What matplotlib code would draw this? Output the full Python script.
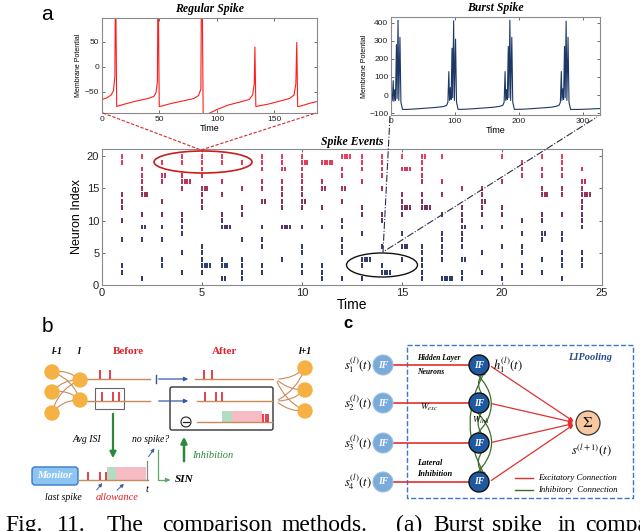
import numpy as np
import matplotlib.pyplot as plt
from matplotlib.patches import Circle, Ellipse, Rectangle, FancyBboxPatch, FancyArrowPatch
from matplotlib.colors import LinearSegmentedColormap

plt.rcParams['font.family'] = ['Liberation Sans', 'DejaVu Sans']
plt.rcParams['mathtext.fontset'] = 'stix'

W, H = 640, 531
NARROW = ['Liberation Sans Narrow', 'Liberation Sans', 'DejaVu Sans']
SERIF = ['Liberation Serif', 'DejaVu Serif']

# ---------------- data ----------------
# regular spiking neuron: (time, membrane potential) key points
reg_t = [0, 4, 8, 10, 11.2, 11.6, 12.0, 12.8, 14, 20, 30, 40, 45, 47, 48.2, 48.6, 49.0, 49.8,
         52, 60, 70, 80, 84, 86, 86.4, 86.8, 87.2, 88, 92, 100, 110, 120, 128, 131, 132.4, 133.0,
         133.8, 136, 145, 155, 163, 167, 168.6, 169.4, 170.2, 173, 180, 187]
reg_v = [-66, -63, -57, -48, -20, 130, 130, -80, -79, -75, -69, -64, -60, -52, -30, 130, 130, -80,
         -79, -74, -69, -64, -58, -45, 130, 130, 130, -96, -95, -86, -77, -71, -66, -57, -35, 39,
         -80, -79, -75, -69, -64, -57, -35, 48, -80, -79, -74, -70]

# bursting neuron: (time, membrane potential) key points
burst_t = [0, 2, 3.5, 4.5, 6, 7, 8.5, 9.5, 11, 12.2, 14, 15.5, 18, 25, 40, 55, 70, 82, 87,
           89, 90.5, 91.5, 93, 94, 95.5, 96.5, 98, 99.2, 101, 102.5, 105, 115, 130, 145, 160, 170, 175,
           177, 178.5, 179.5, 181, 182, 183.5, 184.5, 186, 187.2, 189, 190.5, 193, 205, 220, 235, 250, 258, 263,
           265, 266.5, 267.5, 269, 270, 271.5, 272.5, 274, 275.2, 277, 278.5, 281, 295, 310, 327]
burst_v = [-40, -30, 80, -35, 30, -30, 280, -20, 415, -30, 320, -40, -80, -80, -77, -73, -69, -64, -58,
           -40, 130, -30, 40, -25, 260, -15, 412, -30, 310, -40, -80, -79, -76, -72, -68, -63, -57,
           -40, 130, -30, 30, -25, 270, -15, 415, -30, 320, -40, -80, -79, -76, -72, -68, -63, -57,
           -40, 130, -30, 35, -25, 270, -15, 410, -30, 320, -40, -80, -80, -78, -75]

# raster: time step -> neurons firing; (neuron, n) = burst of n spikes
raster = {
    1: [20, 19, 14, 13, 12, 10, 7, 3, 2],
    2: [20, 18, 17, 16, 15, (14, 3), 11, (9, 2), 7, 1],
    3: [19, (17, 2), 16, 13, 11, 9, 7, 4, 3],
    4: [20, 19, 17, (16, 4), 15, 11, 10, 9, 8, 5, 2],
    5: [20, 19, 18, 17, (15, 3), 14, 13, 12, 6, 5, 4, (3, 4), 2],
    6: [20, 19, 16, 14, 11, 10, (9, 4), 4, (3, 3), (1, 2)],
    7: [19, 15, 12, 11, 7, 4, 3, 2, 1],
    8: [20, 19, 18, 16, 15, (13, 2), 9, 7, 6, 3, 2],
    9: [20, 19, (18, 2), 16, 15, 14, 13, 12, (9, 4), 4],
    10: [20, (19, 3), 18, 17, 16, 15, 14, (13, 2), 12, 9, 6, 5, 3, 2],
    11: [(19, 5), 16, (15, 2), 12, 9, 3, 2, 1],
    12: [(20, 4), 18, 17, (15, 2), 13, 10, 9, 7, 6, 5, 1],
    13: [20, 19, 18, 16, 12, 11, 8, (4, 4), 3, 1],
    14: [20, 19, 18, 17, 15, 11, 10, 6, 3, (2, 4)],
    15: [20, (18, 4), 14, 13, (12, 4), 11, 8, (6, 3), 4],
    16: [(20, 2), 19, 18, 17, 16, 14, 13, (12, 4), 6, 5, 4, 3, 2, 1],
    17: [20, 16, 14, 11, 8, 7, 6, 5, 4, (1, 5)],
    18: [15, 12, 11, 10, (9, 2), 8, 7, 6, (4, 2), 2, 1],
    19: [15, 14, (13, 2), 12, 11, 9, 5, 2],
    20: [20, 16, 12, 11, 9, 6, 3, 1],
    21: [19, 18, 17, 10, 8, 6, 5, 3, 2],
    22: [20, 18, 17, 15, (14, 3), 11, 10, (8, 2), 7, 4, 2],
    23: [20, 19, 18, 17, 15, 14, 11, 8, 7, 5, 4, 3, 1],
    24: [18, (16, 2), 15, (14, 4), 13, 12, 11, 10, 9, 5, 4, 3],
}

input_labels = [r'$s_{1}^{(l)}(t)$', r'$s_{2}^{(l)}(t)$', r'$s_{3}^{(l)}(t)$', r'$s_{4}^{(l)}(t)$']
caption_words = ['Fig.', '11.', 'The', 'comparison', 'methods.', '(a)', 'Burst', 'spike', 'in', 'comparison']
caption_x = [5, 57, 107, 162, 282, 396, 433, 492, 558, 585]

# ---------------- figure ----------------
fig = plt.figure(figsize=(W / 100, H / 100), dpi=100)


def px_axes(x0, y0, x1, y1, **kw):
    return fig.add_axes([x0 / W, 1 - y1 / H, (x1 - x0) / W, (y1 - y0) / H], **kw)


def matlab_style(ax, size):
    for s in ax.spines.values():
        s.set_color('#8a8a8a')
        s.set_linewidth(0.8)
    ax.tick_params(direction='in', length=2.5, width=0.6, color='#555555',
                   labelcolor='#222222', labelsize=size, top=True, right=True, pad=2)


title_kw = dict(fontfamily=SERIF, fontweight='bold', style='italic', fontsize=8.5)

# Regular spike
ax1 = px_axes(102, 18, 317, 113)
ax1.plot(reg_t, reg_v, color='#ff1c1c', lw=0.8)
ax1.set_xlim(0, 187)
ax1.set_ylim(-93, 97)
ax1.set_xticks([0, 50, 100, 150])
ax1.set_yticks([-50, 0, 50])
matlab_style(ax1, 6)
ax1.set_xlabel('Time', fontsize=6.5, labelpad=1)
ax1.set_ylabel('Membrane Potential', fontsize=5, family=NARROW, labelpad=2)
ax1.set_title('Regular Spike', pad=4, **title_kw)

# Burst spike
ax2 = px_axes(391, 17, 600, 115)
ax2.plot(burst_t, burst_v, color='#1d3766', lw=0.8)
ax2.set_xlim(0, 327)
ax2.set_ylim(-111, 433)
ax2.set_xticks([0, 100, 200, 300])
ax2.set_yticks([-100, 0, 100, 200, 300, 400])
matlab_style(ax2, 6)
ax2.set_xlabel('Time', fontsize=6.5, labelpad=1)
ax2.set_ylabel('Membrane Potential', fontsize=5, family=NARROW, labelpad=1)
ax2.set_title('Burst Spike', pad=4, **title_kw)

# Spike raster
cmap = LinearSegmentedColormap.from_list(
    'spk', ['#17275a', '#1e2a5e', '#3a2456', '#6b1c4c', '#b81f48', '#ec2a50'])
ax3 = px_axes(102, 149, 602, 285)
xs, y0s, y1s, cols = [], [], [], []
for t, rows in raster.items():
    for item in rows:
        r, n = item if isinstance(item, tuple) else (item, 1)
        for k in range(n):
            xs.append(t + k * 0.13)
            y0s.append(r - 0.38)
            y1s.append(r + 0.38)
            cols.append(cmap((r - 1) / 19))
ax3.vlines(xs, y0s, y1s, colors=cols, lw=1.3)
ax3.set_xlim(0, 25)
ax3.set_ylim(0, 21.1)
ax3.set_xticks([0, 5, 10, 15, 20, 25])
ax3.set_yticks([0, 5, 10, 15, 20])
matlab_style(ax3, 8)
ax3.set_xlabel('Time', fontsize=10, labelpad=0, family=NARROW)
ax3.set_ylabel('Neuron Index', fontsize=9, labelpad=3, family=NARROW)
ax3.set_title('Spike Events', pad=3, **title_kw)

# ---------------- overlay in pixel coordinates ----------------
ov = fig.add_axes([0, 0, 1, 1], zorder=10)
ov.set_xlim(0, W)
ov.set_ylim(H, 0)
ov.axis('off')
ov.patch.set_alpha(0)

ov.text(47, 15, 'a', fontsize=15, ha='center', va='center')
ov.text(47, 327, 'b', fontsize=15, ha='center', va='center')
ov.text(348, 324, 'c', fontsize=12, fontweight='bold', ha='center', va='center')

# zoom connectors
ov.plot([103, 201, 316], [113, 150, 113], color='#d42a2a', lw=0.8, ls=(0, (3, 1.5)))
ov.add_patch(Ellipse((203, 162), 98, 22, fill=False, edgecolor='#c81e1e', lw=1.2))
ov.plot([390, 383, 597], [116, 252, 117], color='#2a3048', lw=0.8, ls='-.')
ov.add_patch(Ellipse((382, 265), 71, 24, fill=False, edgecolor='#111111', lw=1.0))

# ---------------- panel b ----------------
orange, brown, red = '#f5b143', '#c98a5a', '#e0202a'
blue_a, green = '#3a5aa8', '#2a8a3a'
ital = dict(fontfamily=SERIF, style='italic')

left_col = [372, 392, 413]
mid_col = [380, 400]
right_col = [368, 390, 411]
for ya in left_col:
    for yb in mid_col:
        ov.add_patch(FancyArrowPatch((52, ya), (80, yb), arrowstyle='-', color=brown, lw=0.8,
                                     connectionstyle='arc3,rad=-0.25'))
for ya in mid_col:
    for yb in right_col:
        ov.add_patch(FancyArrowPatch((276, ya + (-1 if ya < 390 else 1)), (305, yb), arrowstyle='-',
                                     color=brown, lw=0.8, connectionstyle='arc3,rad=0.2'))
for y in left_col:
    ov.add_patch(Circle((52, y), 7, color=orange, zorder=3))
for y in mid_col:
    ov.add_patch(Circle((80, y), 7, color=orange, zorder=3))
for y in right_col:
    ov.add_patch(Circle((305, y), 7, color=orange, zorder=3))

ov.text(57, 352, 'l-1', fontsize=7, fontweight='bold', ha='center', va='center', **ital)
ov.text(79, 352, 'l', fontsize=7, fontweight='bold', ha='center', va='center', **ital)
ov.text(305, 352, 'l+1', fontsize=7, fontweight='bold', ha='center', va='center', **ital)
ov.text(128, 352, 'Before', fontsize=8, fontweight='bold', color=red, ha='center', va='center',
        fontfamily=SERIF)
ov.text(225, 352, 'After', fontsize=8, fontweight='bold', color=red, ha='center', va='center',
        fontfamily=SERIF)


def train(x0, x1, y, spikes, h=9):
    ov.plot([x0, x1], [y, y], color=brown, lw=1.0)
    ov.vlines(spikes, y - h, y, color=red, lw=1.2)


train(87, 150, 379, [100, 110])
train(87, 150, 401, [102, 113, 119])
ov.add_patch(Rectangle((95, 388), 29, 21, fill=False, edgecolor='#666666', lw=0.8))
for y in [379, 401]:
    ov.plot([156, 156], [375, 383], color=blue_a, lw=0.9)
    ov.annotate('', xy=(191, y), xytext=(156, y),
                arrowprops=dict(arrowstyle='-|>', color=blue_a, lw=0.9, mutation_scale=6))
train(195, 273, 379, [204, 212])
ov.add_patch(FancyBboxPatch((170, 387), 103, 43, boxstyle='round,pad=0,rounding_size=2',
                            fill=False, edgecolor='#333333', lw=1.0))
train(197, 272, 401, [205, 216, 222])
ov.add_patch(Rectangle((222, 411), 10, 11, color='#b4dcc0', lw=0))
ov.add_patch(Rectangle((232, 411), 30, 11, color='#f6bcc4', lw=0))
train(197, 272, 422, [263, 265.5, 268], h=8)
ov.add_patch(Circle((186, 422), 5, fill=False, edgecolor='#222222', lw=0.8))
ov.plot([183, 189], [422, 422], color='#222222', lw=0.9)

ov.annotate('', xy=(113, 461), xytext=(113, 411),
            arrowprops=dict(arrowstyle='-|>', color=green, lw=1.6, mutation_scale=9))
ov.text(87, 440, 'Avg ISI', fontsize=7, ha='center', va='center', **ital)
ov.text(151, 440, 'no spike?', fontsize=7, ha='center', va='center', **ital)
ov.annotate('', xy=(156, 446), xytext=(147, 459),
            arrowprops=dict(arrowstyle='-|>', color=blue_a, lw=0.7, mutation_scale=5))
ov.plot([158, 158, 166], [450, 480, 480], color='#5aa86a', lw=0.9)
ov.annotate('', xy=(173, 480), xytext=(165, 480),
            arrowprops=dict(arrowstyle='-|>', color='#5aa86a', lw=0.9, mutation_scale=6))
ov.text(175, 480, 'SIN', fontsize=8, fontweight='bold', ha='left', va='center', **ital)
ov.annotate('', xy=(184, 434), xytext=(184, 464),
            arrowprops=dict(arrowstyle='-|>', color=green, lw=1.8, mutation_scale=9))
ov.text(192, 456, 'Inhibition', fontsize=7.5, color=green, ha='left', va='center', **ital)

ov.add_patch(FancyBboxPatch((32, 467), 46, 18, boxstyle='round,pad=0,rounding_size=3',
                            facecolor='#8cc4f2', edgecolor='#3a78c8', lw=1.0))
ov.text(55, 476, 'Monitor', fontsize=7.5, fontweight='bold', color='white', ha='center',
        va='center', **ital)
ov.add_patch(Rectangle((107, 467), 9, 13, color='#b4dcc0', lw=0))
ov.add_patch(Rectangle((116, 467), 30, 13, color='#f6bcc4', lw=0))
train(79, 148, 480, [88, 100, 106], h=8)
ov.plot([147, 147], [461, 480], color='#888888', lw=0.9)
ov.text(147, 490, 't', fontsize=7.5, ha='center', va='center', **ital)
ov.text(63, 498, 'last spike', fontsize=7, ha='center', va='center', **ital)
ov.text(117, 498, 'allowance', fontsize=7.5, color=red, ha='center', va='center', **ital)
ov.annotate('', xy=(104, 481), xytext=(95, 492),
            arrowprops=dict(arrowstyle='-|>', color=blue_a, lw=0.7, mutation_scale=5))
ov.annotate('', xy=(126, 482), xytext=(115, 492),
            arrowprops=dict(arrowstyle='-|>', color=blue_a, lw=0.7, mutation_scale=5))

# ---------------- panel c ----------------
ys = [365, 403, 443, 482]
in_x, hid_x, rad = 383, 479, 10
exc, inh = '#e03030', '#3d6e2e'
ov.add_patch(Rectangle((407, 345), 226, 153, fill=False, edgecolor='#3a78c8', lw=1.0, ls='--'))
ov.text(590, 358, 'LIPooling', fontsize=7.5, fontweight='bold', color='#2a4a8a', ha='center',
        va='center', **ital)

for i, y in enumerate(ys):
    ov.plot([in_x + rad, hid_x - rad], [y, y], color=exc, lw=1.2)
    ov.add_patch(FancyArrowPatch((hid_x + rad, y), (576, 423), arrowstyle='-|>', color=exc,
                                 lw=0.9, mutation_scale=6))
    ov.text(372, y, input_labels[i], fontsize=9, ha='right', va='center')

# green lateral-inhibition arcs
for a, b, rr in [(0, 2, 0.55), (1, 3, 0.55)]:
    ov.add_patch(FancyArrowPatch((hid_x - 8, ys[a] + 3), (hid_x - 8, ys[b] - 3),
                                 arrowstyle='<|-|>', color=inh, lw=0.9, mutation_scale=5,
                                 connectionstyle='arc3,rad=-%s' % rr))
for a, b, rr in [(0, 1, 0.5), (1, 2, 0.5), (2, 3, 0.5), (0, 3, 0.3)]:
    ov.add_patch(FancyArrowPatch((hid_x + 8, ys[a] + 3), (hid_x + 8, ys[b] - 3),
                                 arrowstyle='<|-|>', color=inh, lw=0.9, mutation_scale=5,
                                 connectionstyle='arc3,rad=%s' % rr))

for y in ys:
    ov.add_patch(Circle((in_x, y), rad, facecolor='#7aaad8', edgecolor='#9cc0e4', lw=0.8, zorder=4))
    ov.text(in_x, y, 'IF', fontsize=7, fontweight='bold', color='white', ha='center', va='center',
            zorder=5, **ital)
    ov.add_patch(Circle((hid_x, y), rad, facecolor='#1f5aa0', edgecolor='#111111', lw=1.0, zorder=4))
    ov.text(hid_x, y, 'IF', fontsize=7, fontweight='bold', color='white', ha='center', va='center',
            zorder=5, **ital)

ov.text(493, 365, r'$h_{1}^{(l)}(t)$', fontsize=9, ha='left', va='center')
ov.text(417, 358, 'Hidden Layer', fontsize=5.5, fontweight='bold', ha='left', va='center', **ital)
ov.text(417, 372, 'Neurons', fontsize=5.5, fontweight='bold', ha='left', va='center', **ital)
ov.text(420, 407, r'$W_{exc}$', fontsize=6.5, ha='left', va='center')
ov.text(472, 420, r'$W_{inh}$', fontsize=6.5, ha='left', va='center')
ov.text(417, 463, 'Lateral', fontsize=6, fontweight='bold', ha='left', va='center', **ital)
ov.text(417, 474, 'Inhibition', fontsize=6, fontweight='bold', ha='left', va='center', **ital)

ov.add_patch(Circle((588, 423), 12, facecolor='#f8c8a0', edgecolor='#333333', lw=0.9, zorder=4))
ov.text(588, 423, r'$\Sigma$', fontsize=11, ha='center', va='center', zorder=5)
ov.text(591, 450, r'$s^{(l+1)}(t)$', fontsize=9, ha='center', va='center')

ov.plot([515, 533], [478, 478], color=exc, lw=1.0)
ov.plot([515, 533], [490, 490], color=inh, lw=1.0)
ov.text(538, 478, 'Excitatory Connection', fontsize=6.3, ha='left', va='center', **ital)
ov.text(538, 490, 'Inhibitory  Connection', fontsize=6.3, ha='left', va='center', **ital)

# caption, its lower part cut by the image edge as in the source
for word, x in zip(caption_words, caption_x):
    ov.text(x, 531, word, fontsize=17, fontfamily=SERIF, ha='left', va='baseline', clip_on=False)

fig.savefig('out.png', dpi=100)
